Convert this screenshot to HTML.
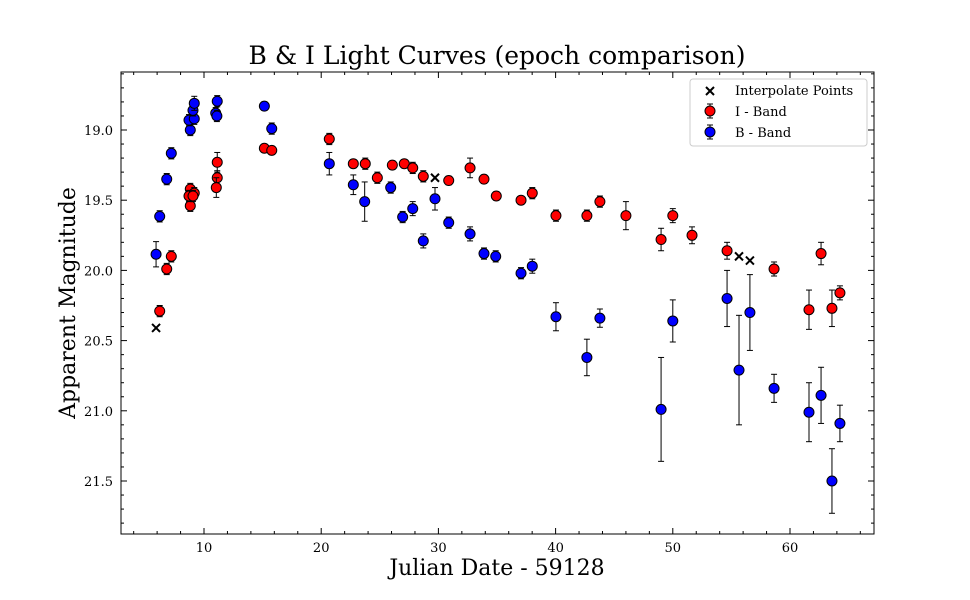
<!DOCTYPE html>
<html><head><meta charset="utf-8"><style>
html,body{margin:0;padding:0;background:#fff;}
svg{display:block;font-family:"DejaVu Serif","Liberation Serif",serif;}
</style></head><body>
<svg id="chart" width="970" height="600" viewBox="0 0 970 600" xmlns="http://www.w3.org/2000/svg">
<rect width="970" height="600" fill="#fff"/>
<text x="497" y="64" text-anchor="middle" font-size="25">B &amp; I Light Curves (epoch comparison)</text>
<text x="497" y="575" text-anchor="middle" font-size="22">Julian Date - 59128</text>
<text transform="translate(75,303) rotate(-90)" text-anchor="middle" font-size="22">Apparent Magnitude</text>
<g id="ticks"></g>
<g id="marks"></g>
<rect x="121" y="72" width="753" height="462" fill="none" stroke="#000" stroke-width="1"/>
<g>
<rect x="690" y="79" width="177" height="67" rx="3" fill="#fff" stroke="#ccc"/>
<g><path d="M706,87 l8,8 M714,87 l-8,8" stroke="#000" stroke-width="2"/><text x="735" y="95" font-size="13">Interpolate Points</text></g>
<g><line x1="710" y1="104" x2="710" y2="118" stroke="#000"/><line x1="707" y1="104" x2="713" y2="104" stroke="#000"/><line x1="707" y1="118" x2="713" y2="118" stroke="#000"/><circle cx="710" cy="111" r="5" fill="red" stroke="#000"/><text x="735" y="116" font-size="13">I - Band</text></g>
<g><line x1="710" y1="125" x2="710" y2="139" stroke="#000"/><line x1="707" y1="125" x2="713" y2="125" stroke="#000"/><line x1="707" y1="139" x2="713" y2="139" stroke="#000"/><circle cx="710" cy="132" r="5" fill="blue" stroke="#000"/><text x="735" y="137" font-size="13">B - Band</text></g>
</g>
</svg>
<script>
const iDates=[6.22,6.82,7.21,8.83,8.83,8.72,9.17,9.06,11.13,11.13,11.05,15.15,15.78,20.69,22.74,23.76,24.79,26.07,27.09,27.81,28.71,30.88,32.70,33.89,34.94,37.05,38.01,40.03,42.67,43.78,46.0,49.0,50.0,51.64,54.63,58.64,61.62,62.65,63.58,64.26];
const iMags=[20.29,19.99,19.90,19.54,19.42,19.47,19.45,19.47,19.23,19.34,19.41,19.13,19.145,19.064,19.24,19.24,19.34,19.25,19.24,19.27,19.33,19.36,19.27,19.35,19.47,19.50,19.45,19.61,19.61,19.51,19.61,19.78,19.61,19.75,19.86,19.99,20.28,19.88,20.27,20.16];
const iErrs=[0.04,0.04,0.04,0.04,0.04,0.04,0.04,0.04,0.07,0.05,0.07,0.02,0.02,0.04,0.03,0.04,0.04,0.03,0.03,0.04,0.04,0.03,0.07,0.03,0.03,0.03,0.04,0.04,0.04,0.04,0.1,0.08,0.05,0.06,0.06,0.05,0.14,0.08,0.13,0.05];
const bDates=[5.91,6.22,6.82,7.21,8.83,8.72,9.17,9.06,9.17,11.13,11.0,11.1,15.15,15.78,20.69,22.74,23.71,25.93,26.95,27.81,28.71,29.71,30.88,32.70,33.89,34.89,37.05,38.01,40.03,42.67,43.78,49.0,50.0,54.63,55.65,56.58,58.64,61.62,62.65,63.58,64.26];
const bMags=[19.885,19.615,19.35,19.166,19.00,18.93,18.92,18.86,18.81,18.795,18.88,18.9,18.83,18.99,19.24,19.39,19.51,19.41,19.62,19.56,19.79,19.49,19.66,19.74,19.88,19.90,20.02,19.97,20.33,20.62,20.34,20.99,20.36,20.20,20.71,20.30,20.84,21.01,20.89,21.50,21.09];
const bErrs=[0.09,0.04,0.04,0.04,0.04,0.04,0.04,0.04,0.05,0.04,0.04,0.04,0.03,0.04,0.08,0.07,0.14,0.04,0.04,0.05,0.05,0.08,0.04,0.05,0.04,0.04,0.04,0.05,0.1,0.13,0.065,0.37,0.15,0.2,0.39,0.27,0.1,0.21,0.2,0.23,0.13];
const xDates=[5.91,29.71,55.65,56.58];
const xMags=[20.41,19.34,19.90,19.93];
const xTicks=[10,20,30,40,50,60];
const yTicks=[19.0,19.5,20.0,20.5,21.0,21.5];

const NS='http://www.w3.org/2000/svg';
const L=121,R=874,T=72,B=534;
function sx(v){return 86.8+v*11.72;}
function sy(v){return 130+(v-19)*140.4;}
function el(tag,attrs,parent){const e=document.createElementNS(NS,tag);for(const k in attrs)e.setAttribute(k,attrs[k]);parent.appendChild(e);return e;}
const tg=document.getElementById('ticks'),mg=document.getElementById('marks');
for(let v=4;v<=66;v+=2){const x=sx(v),len=(v%10===0)?6:3;
 const a=el('line',{x1:x,y1:B,x2:x,y2:B-len,stroke:'#000'},tg);
 
 el('line',{x1:x,y1:T,x2:x,y2:T+len,stroke:'#000'},tg);}
for(let i=0;i<=33;i++){const v=18.6+i*0.1;const y=sy(v);if(y<T||y>B)continue;
 const major=Math.abs(v*2-Math.round(v*2))<1e-6;const len=major?6:3;
 const a=el('line',{x1:L,y1:y,x2:L+len,y2:y,stroke:'#000'},tg);
 
 el('line',{x1:R,y1:y,x2:R-len,y2:y,stroke:'#000'},tg);}
xTicks.forEach(v=>{const t=el('text',{x:sx(v),y:B+18,'text-anchor':'middle','font-size':13},tg);t.textContent=v;
 });
yTicks.forEach(v=>{const t=el('text',{x:L-8,y:sy(v)+5,'text-anchor':'end','font-size':13},tg);t.textContent=v.toFixed(1);
 });
function series(d,m,e,color,name){
 d.forEach((v,i)=>{const g=el('g',{},mg);
  
  
  const x=sx(v),y1=sy(m[i]-e[i]),y2=sy(m[i]+e[i]);
  el('line',{x1:x,y1:y1,x2:x,y2:y2,stroke:'#000'},g);
  el('line',{x1:x-3,y1:y1,x2:x+3,y2:y1,stroke:'#000'},g);
  el('line',{x1:x-3,y1:y2,x2:x+3,y2:y2,stroke:'#000'},g);
  el('circle',{cx:x,cy:sy(m[i]),r:5,fill:color,stroke:'#000'},g);});}
series(iDates,iMags,iErrs,'red','i-band-point');
series(bDates,bMags,bErrs,'blue','b-band-point');
xDates.forEach((v,i)=>{const x=sx(v),y=sy(xMags[i]);const p=el('path',{d:`M${x-4},${y-4}L${x+4},${y+4}M${x+4},${y-4}L${x-4},${y+4}`,stroke:'#000','stroke-width':2},mg);
 });
</script>
</body></html>
